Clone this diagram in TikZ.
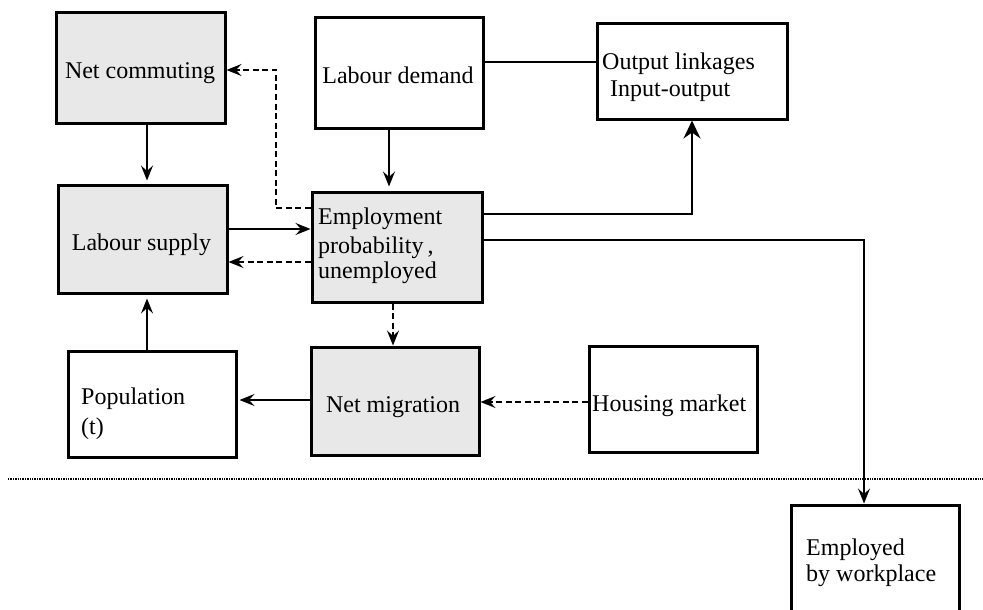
\documentclass[tikz,border=0pt]{standalone}
\usepackage{fontspec}
\setmainfont{Liberation Serif}
\usetikzlibrary{arrows.meta}
\definecolor{boxgray}{HTML}{E8E8E8}
\begin{document}
\begin{tikzpicture}[x=1pt,y=-1pt,
  box/.style={draw=black, line width=3pt, inner sep=0pt},
  grayfill/.style={box, fill=boxgray},
  txt/.style={font=\fontsize{24}{27}\selectfont, inner sep=0pt},
  conn/.style={line width=1.6pt},
  arr/.style={conn, -{Stealth[length=15pt,width=12pt,inset=5.5pt]}},
  darr/.style={arr, line width=1.8pt, dash pattern=on 6pt off 3.5pt},
  bigarr/.style={conn, line width=1.8pt, -{Stealth[length=18pt,width=17pt,inset=6pt]}},
  sep/.style={line width=1.6pt, dash pattern=on 1.3pt off 1.1pt}]
\useasboundingbox (0,0) rectangle (983,610);
\clip (0,0) rectangle (983,610);

% boxes
\node[grayfill, minimum width=169pt, minimum height=110pt] (netcomm) at (140.5,68) {};
\node[box, minimum width=168pt, minimum height=110pt] (labdem) at (399,73) {};
\node[box, minimum width=190pt, minimum height=95pt] (output) at (692,71.5) {};
\node[grayfill, minimum width=169pt, minimum height=108pt] (labsup) at (142.5,239) {};
\node[grayfill, minimum width=170pt, minimum height=110pt] (emp) at (397,247) {};
\node[box, minimum width=168pt, minimum height=106pt] (pop) at (152,404) {};
\node[grayfill, minimum width=168pt, minimum height=108pt] (netmig) at (395,401) {};
\node[box, minimum width=168pt, minimum height=106pt] (housing) at (673,399) {};
\node[box, minimum width=168pt, minimum height=120pt] (employed) at (875,565) {};

% texts
\node[txt, anchor=base] (tnetcomm) at (140,78) {Net commuting};
\node[txt, anchor=base] (tlabdem) at (398,84) {Labour demand};
\node[txt, anchor=base west] (toutA) at (602,70) {Output linkages};
\node[txt, anchor=base west] (toutB) at (610,96) {Input-output};
\node[txt, anchor=base] (tlabsup) at (141.5,250) {Labour supply};
\node[txt, anchor=base west] (tempA) at (318,224) {Employment};
\node[txt, anchor=base west] (tempB) at (318,253) {probability\,,};
\node[txt, anchor=base west] (tempC) at (318,278) {unemployed};
\node[txt, anchor=base west] (tpopA) at (81,404) {Population};
\node[txt, anchor=base west] (tpopB) at (81,434) {(t)};
\node[txt, anchor=base] (tnetmig) at (393,412) {Net migration};
\node[txt, anchor=base west] (thousing) at (592,411) {Housing market};
\node[txt, anchor=base west] (templA) at (806,555) {Employed};
\node[txt, anchor=base west] (templB) at (806,581) {by workplace};

% helper coordinates
\coordinate (colA) at (147,0);
\coordinate (colB) at (389,0);
\coordinate (colC) at (393,0);
\coordinate (colD) at (276,0);
\coordinate (colE) at (864,0);
\coordinate (r62) at (0,62);
\coordinate (r70) at (0,70);
\coordinate (r208) at (0,208);
\coordinate (r214) at (0,214);
\coordinate (r229) at (0,229);
\coordinate (r240) at (0,240);
\coordinate (r262) at (0,262);
\coordinate (r400) at (0,400);
\coordinate (r402) at (0,402);
\coordinate (sepL) at (8,479);
\coordinate (sepR) at (983,479);

% connectors
\draw[arr, shorten >=3pt] (netcomm.south -| colA) -- (labsup.north -| colA);
\draw[arr, shorten >=4pt] (labdem.south -| colB) -- (emp.north -| colB);
\draw[conn] (labdem.east |- r62) -- (output.west |- r62);
\draw[bigarr] (emp.east |- r214) -| (output.south);
\draw[arr] (emp.east |- r240) -| (employed.north -| colE);
\draw[darr] (emp.west |- r208) -| (colD |- r70) -- (netcomm.east |- r70);
\draw[arr] (labsup.east |- r229) -- (emp.west |- r229);
\draw[darr] (emp.west |- r262) -- (labsup.east |- r262);
\draw[darr] (emp.south -| colC) -- (netmig.north -| colC);
\draw[darr] (housing.west |- r402) -- (netmig.east |- r402);
\draw[arr, shorten >=2pt] (netmig.west |- r400) -- (pop.east |- r400);
\draw[arr, shorten >=4pt] (pop.north -| colA) -- (labsup.south -| colA);

% separator
\draw[sep] (sepL) -- (sepR);
\end{tikzpicture}
\end{document}
